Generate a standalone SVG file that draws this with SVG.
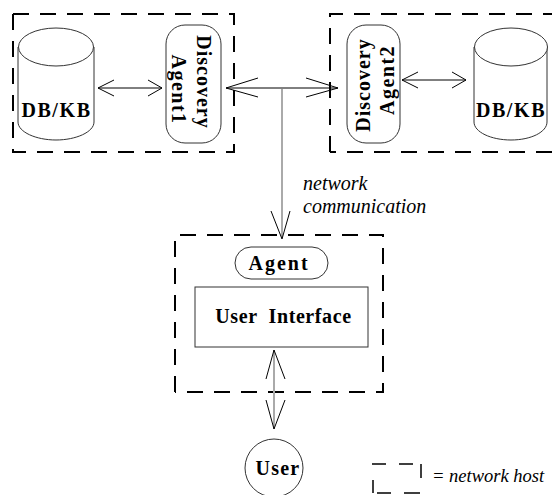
<svg xmlns="http://www.w3.org/2000/svg" width="552" height="495" viewBox="0 0 552 495">
<style>
.host{fill:none;stroke:#000;stroke-width:2;stroke-dasharray:16 11}
.sh{fill:#fff;stroke:#333;stroke-width:1}
.ln{fill:none;stroke:#000;stroke-width:1}
.gr{fill:none;stroke:#aaa;stroke-width:2}
.b{font-family:"Liberation Serif",serif;font-weight:bold;font-size:20px;fill:#000}
.i{font-family:"Liberation Serif",serif;font-style:italic;font-size:20px;fill:#000}
</style>
<rect width="552" height="495" fill="#fff"/>
<g id="host1"><path class="host" d="M13 14H234V152H13V14"/></g>
<g id="host2"><path class="host" d="M330 152V14H552M552 152H330"/></g>
<g id="host3"><path class="host" d="M175 392V235H383V392H175"/></g>
<g id="db1">
<path class="sh" d="M18 47V122C18 132 36 140 56 140S94 132 94 122V47"/>
<ellipse class="sh" cx="56" cy="47" rx="37.500" ry="19"/>
<text class="b" x="56.500" y="117" text-anchor="middle" letter-spacing="1.600">DB/KB</text>
</g>
<g id="agent1">
<rect class="sh" x="166" y="25" width="55" height="118" rx="19"/>
<text class="b" transform="translate(197,82) rotate(90)" text-anchor="middle" letter-spacing="1">Discovery</text>
<text class="b" transform="translate(172,89.500) rotate(90)" text-anchor="middle" letter-spacing="1.500">Agent1</text>
</g>
<g id="agent2">
<rect class="sh" x="347" y="25" width="53" height="118" rx="19"/>
<text class="b" transform="translate(370,85) rotate(-90)" text-anchor="middle" letter-spacing="1">Discovery</text>
<text class="b" transform="translate(394,80) rotate(-90)" text-anchor="middle" letter-spacing="1.500">Agent2</text>
</g>
<g id="db2">
<path class="sh" d="M474 47V122C474 132 491 140 511 140S547 132 547 122V47"/>
<ellipse class="sh" cx="511" cy="47" rx="36.500" ry="19"/>
<text class="b" x="511" y="117" text-anchor="middle" letter-spacing="1.600">DB/KB</text>
</g>
<g id="agent">
<rect class="sh" x="235" y="247" width="93" height="32" rx="16"/>
<text class="b" x="279" y="270" text-anchor="middle" letter-spacing="2">Agent</text>
</g>
<g id="ui">
<rect class="sh" x="195" y="287" width="173" height="60"/>
<text class="b" x="283.500" y="323" text-anchor="middle" letter-spacing="0.600" xml:space="preserve">User  Interface</text>
</g>
<g id="user">
<circle class="sh" cx="274" cy="468" r="29"/>
<text class="b" x="278" y="475" text-anchor="middle" letter-spacing="1.200">User</text>
</g>
<g id="connectors">
<path class="ln" d="M98 88H162M114 80L98 88L114 96M148 80L162 88L148 96"/>
<path class="ln" d="M226 88H338M258 78L226 88L258 97M306 78L338 88L306 97"/>
<path class="ln" d="M402 80H466M418 72L402 80L418 88M452 72L466 80L452 88"/>
<path class="gr" d="M282 89V238"/>
<path class="ln" d="M271 211L282 239L290 211"/>
<path class="gr" d="M274 350V429"/>
<path class="ln" d="M266 379L274 350L285 379M266 400L274 429L285 400"/>
</g>
<g id="labels">
<text class="i" x="303" y="190">network</text>
<text class="i" x="303" y="213">communication</text>
</g>
<g id="legend">
<path d="M372 464H386M399 464H413M421 464V478M373 480V493M377 493H391M404 493H420" fill="none" stroke="#000" stroke-width="1.500"/>
<text class="i" x="432" y="482" font-size="18.500" style="font-size:18.5px">= network host</text>
</g>
</svg>
